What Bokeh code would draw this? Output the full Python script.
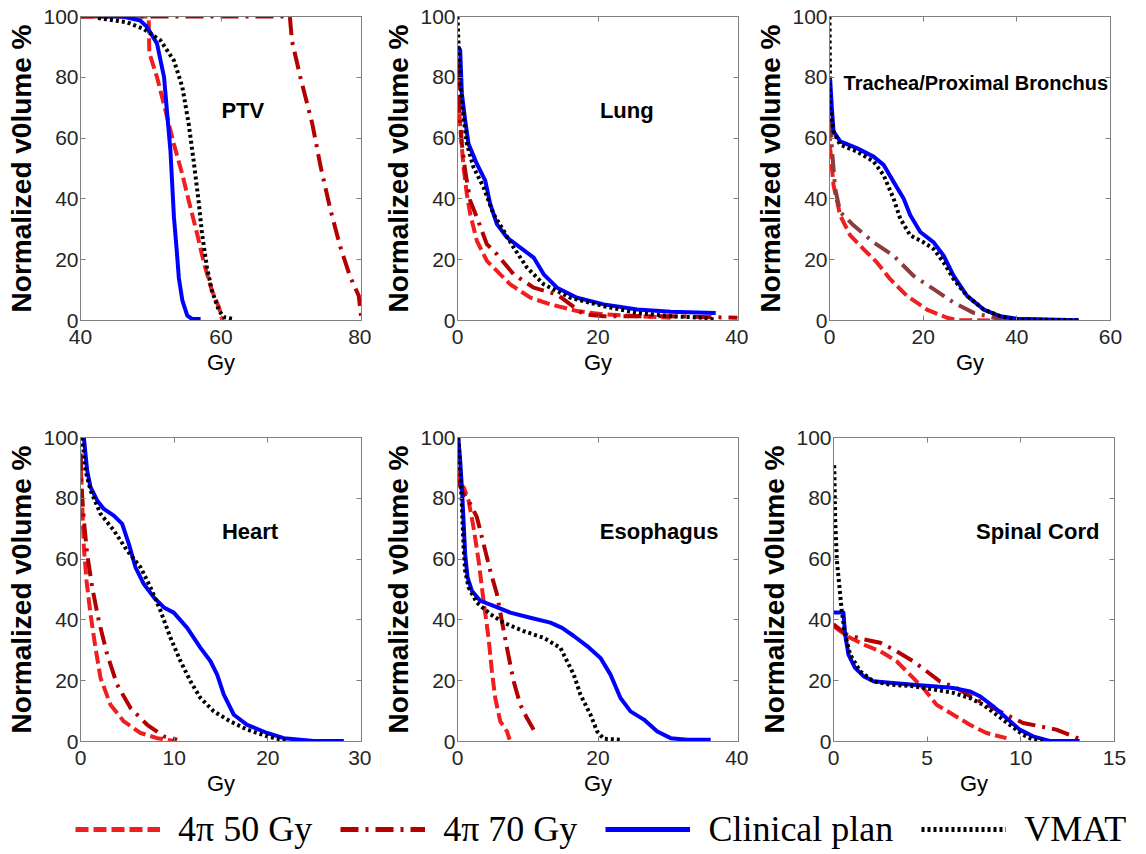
from bokeh.plotting import figure
from bokeh.models import Range1d, LinearAxis, FixedTicker, Label, Legend, LegendItem
from bokeh.layouts import row, column
from bokeh.embed import file_html
from bokeh.resources import INLINE

# ---------------- data (dose in Gy, normalized volume in %) ----------------
ptv_dose_50 = [40, 49.7, 49.8, 50.9, 52.1, 53.3, 54.5, 55.4, 56.6, 57.6, 58.7, 59.7, 60.2]
ptv_vol_50 = [100, 100, 88, 80, 69, 58, 48, 39.5, 28.5, 18.6, 9.9, 4.4, 0]
ptv_dose_70 = [40, 69.8, 70.1, 71.3, 73.0, 74.2, 75.6, 77.0, 78.4, 79.6, 79.9, 80]
ptv_vol_70 = [100, 100, 92, 80, 64.7, 50.4, 36.2, 24.1, 14.3, 8.2, 2.2, 0]
ptv_dose_clin = [42.5, 46, 48.5, 49.5, 50.9, 51.9, 52.3, 52.8, 53.05, 53.3, 53.7, 54.0, 54.5, 55.2, 55.9, 57.1]
ptv_vol_clin = [100, 100, 98.7, 96.5, 91, 80, 69, 56, 45, 34, 23, 14, 6.6, 1.6, 0.5, 0.5]
ptv_dose_vmat = [42.5, 46.6, 49.0, 51.4, 53.3, 54.5, 55.4, 56.1, 56.8, 57.3, 58.0, 58.7, 59.7, 60.4, 61.8]
ptv_vol_vmat = [99.5, 98.1, 95.9, 92.1, 85.5, 76.8, 64.7, 52.6, 39.5, 28.5, 17.5, 9.9, 3.3, 1.1, 0.5]

lung_dose_50 = [0, 0.14, 0.38, 0.86, 1.33, 1.81, 2.76, 4.18, 5.61, 7.51, 10.37, 13.22, 17.02, 20.83, 25.58, 30.34]
lung_vol_50 = [80, 73.6, 63.7, 50.4, 41.6, 35.0, 26.2, 19.6, 16.3, 11.9, 7.5, 5.3, 3.1, 2.0, 1.4, 0.9]
lung_dose_70 = [0, 0.29, 0.62, 1.09, 1.81, 2.76, 4.18, 5.61, 7.99, 10.84, 14.17, 17.97, 20.83, 25.58, 30.34, 39.85]
lung_vol_70 = [85.7, 69.2, 58.1, 49.3, 39.4, 33.9, 25.1, 21.8, 15.2, 10.8, 8.6, 2.0, 1.4, 1.4, 1.4, 0.9]
lung_dose_clin = [0, 0.38, 0.62, 1.09, 1.57, 2.76, 3.95, 4.66, 5.61, 7.04, 8.94, 10.84, 12.27, 14.17, 17.02, 20.83, 25.58, 30.34, 36.76]
lung_vol_clin = [90.1, 89.0, 74.7, 65.9, 58.1, 51.5, 46.0, 38.3, 31.7, 27.3, 24.0, 20.7, 15.2, 10.8, 7.5, 5.3, 3.6, 2.9, 2.5]
lung_dose_vmat = [0, 0.14, 0.38, 0.86, 1.33, 2.28, 3.71, 5.14, 6.56, 7.99, 9.89, 12.27, 16.07, 20.83, 25.58, 30.34, 35.09, 36.5]
lung_vol_vmat = [100, 91.2, 78.0, 67.0, 58.1, 50.4, 43.8, 35.0, 29.5, 24.0, 17.4, 11.9, 7.5, 4.7, 2.5, 1.4, 0.9, 0.3]

tr_dose_50 = [0, 0.14, 0.86, 2.28, 4.42, 7.27, 10.12, 12.97, 16.54, 20.81, 25.09, 27.23, 35]
tr_vol_50 = [63.3, 56.7, 44.5, 34.6, 28.0, 23.5, 19.1, 13.6, 8.1, 3.6, 0.9, 0.1, 0]
tr_dose_70 = [0, 0.14, 0.5, 1.21, 2.28, 5.13, 9.41, 13.68, 17.96, 22.24, 26.51, 30.79, 35.07, 39.34]
tr_vol_70 = [77.7, 69.9, 56.7, 43.4, 35.7, 31.3, 25.7, 21.3, 14.7, 10.3, 5.9, 2.5, 0.9, 0.1]
tr_dose_clin = [0.14, 0.5, 0.86, 2.28, 5.84, 9.41, 11.55, 13.68, 15.82, 17.25, 19.39, 22.24, 24.38, 26.51, 29.37, 32.93, 36.49, 40.06, 53.24]
tr_vol_clin = [79.3, 69.9, 62.2, 58.9, 56.7, 53.9, 51.2, 45.6, 40.1, 34.6, 29.1, 25.7, 21.3, 14.7, 8.1, 3.6, 1.4, 0.6, 0.1]
tr_dose_vmat = [0, 0.14, 0.86, 2.28, 5.84, 9.41, 11.55, 13.68, 15.11, 17.25, 20.1, 22.24, 24.38, 26.51, 29.37, 32.93, 36.49, 40.06, 53.24]
tr_vol_vmat = [100, 69.9, 62.2, 57.8, 55.6, 52.3, 47.8, 40.1, 33.5, 28.0, 25.7, 23.5, 19.1, 13.6, 8.1, 3.6, 1.4, 0.3, 0.1]

ht_dose_50 = [0, 0.18, 0.36, 0.64, 1.07, 1.6, 2.14, 3.2, 4.63, 6.41, 8.19, 9.96]
ht_vol_50 = [94.7, 78.2, 63.9, 52.9, 41.9, 30.8, 20.9, 12.1, 6.6, 2.8, 1.1, 0.2]
ht_dose_70 = [0, 0.11, 0.36, 0.71, 1.25, 1.96, 2.85, 3.91, 5.34, 7.12, 8.9, 10.32]
ht_vol_70 = [94.7, 83.7, 72.7, 61.7, 50.7, 39.6, 28.6, 18.7, 11.0, 5.5, 1.7, 0.6]
ht_dose_clin = [0.36, 0.53, 0.71, 1.07, 1.78, 2.49, 3.56, 4.45, 5.16, 5.87, 6.76, 7.83, 8.9, 9.96, 11.39, 12.81, 13.88, 14.59, 15.3, 16.37, 17.79, 19.93, 21.71, 24.91, 28.11]
ht_vol_clin = [100, 94.7, 89.2, 83.7, 79.3, 76.5, 74.3, 71.6, 65.0, 57.3, 51.8, 47.4, 44.1, 42.4, 37.4, 30.8, 26.4, 22.0, 15.4, 8.8, 5.5, 2.8, 1.1, 0.2, 0.2]
ht_dose_vmat = [0.18, 0.53, 1.07, 2.14, 3.56, 4.98, 6.41, 7.47, 8.54, 9.61, 10.68, 11.74, 12.81, 14.23, 16.01, 17.79, 19.93, 22.06]
ht_vol_vmat = [100, 89.2, 82.6, 74.9, 69.4, 62.8, 57.3, 50.7, 43.0, 34.1, 26.4, 19.8, 14.3, 9.9, 6.6, 3.9, 1.7, 0.2]

es_dose_50 = [0, 0.14, 0.86, 1.57, 2.28, 3.0, 3.71, 4.42, 4.9, 5.37, 6.09, 7.04, 7.42]
es_vol_50 = [90.3, 84.8, 83.7, 79.3, 70.5, 59.5, 46.3, 34.1, 23.1, 14.3, 6.6, 3.3, 0.6]
es_dose_70 = [0, 0.86, 1.81, 2.76, 3.71, 4.66, 5.61, 6.32, 7.04, 7.99, 8.94, 9.89, 10.84]
es_vol_70 = [85.9, 81.5, 78.2, 73.8, 65.0, 56.2, 48.5, 39.6, 30.8, 19.8, 12.1, 7.7, 3.9]
es_dose_clin = [0.14, 0.38, 0.62, 0.86, 1.09, 1.43, 2.04, 3.23, 5.14, 7.51, 10.37, 13.22, 14.88, 16.55, 18.45, 20.35, 21.78, 23.2, 24.63, 26.53, 28.44, 30.34, 32.72, 36.04]
es_vol_clin = [99.1, 92.5, 83.7, 72.7, 61.7, 54.0, 49.6, 46.3, 44.6, 42.4, 40.7, 39.1, 37.4, 34.7, 31.4, 27.5, 22.0, 14.3, 9.9, 7.2, 3.3, 1.1, 0.6, 0.6]
es_dose_vmat = [0.14, 0.38, 0.62, 0.86, 1.09, 1.57, 2.76, 4.66, 6.56, 9.42, 12.27, 14.65, 15.6, 16.55, 17.5, 18.93, 19.88, 20.83, 23.2]
es_vol_vmat = [100, 89.2, 78.2, 63.9, 56.2, 50.7, 45.7, 41.9, 39.1, 36.3, 34.1, 30.8, 26.4, 22.0, 15.4, 8.8, 3.3, 0.9, 0.6]

sc_dose_50 = [0, 0.36, 0.89, 1.6, 2.49, 3.37, 4.08, 4.79, 5.5, 6.39, 7.28, 8.17, 9.23]
sc_vol_50 = [38.0, 36.3, 34.1, 31.9, 29.7, 26.4, 22.0, 17.6, 12.1, 8.8, 5.5, 2.8, 1.1]
sc_dose_70 = [0, 0.71, 1.6, 2.49, 3.37, 4.26, 4.97, 5.68, 6.57, 7.46, 8.34, 9.23, 10.12, 11.01, 11.89, 12.6, 13.23]
sc_vol_70 = [38.5, 35.2, 33.6, 32.5, 29.7, 26.4, 23.1, 19.8, 17.6, 14.3, 11.6, 8.8, 6.1, 5.0, 3.9, 2.2, 0.6]
sc_dose_clin = [0, 0.53, 0.62, 0.8, 1.15, 1.6, 2.13, 3.02, 4.26, 5.33, 6.39, 7.28, 7.81, 8.52, 9.23, 9.94, 10.65, 11.54, 13.14]
sc_vol_clin = [42.4, 42.4, 35.2, 28.6, 24.2, 21.5, 19.8, 19.3, 18.7, 18.2, 17.6, 16.5, 14.9, 11.6, 7.7, 3.9, 1.7, 0.2, 0.2]
sc_dose_vmat = [0.04, 0.09, 0.18, 0.32, 0.44, 0.62, 0.89, 1.42, 2.13, 3.02, 4.26, 5.33, 6.39, 7.28, 7.99, 8.7, 9.41, 10.12, 10.65, 11.18]
sc_vol_vmat = [90.9, 72.7, 59.5, 50.7, 43.0, 35.2, 28.6, 23.1, 19.8, 18.7, 18.2, 17.1, 16.0, 14.3, 12.1, 8.8, 5.5, 2.2, 0.6, 0.2]

panel_titles = ["PTV", "Lung", "Trachea/Proximal Bronchus", "Heart", "Esophagus", "Spinal Cord"]
series_names = ["4\u03c0 50 Gy", "4\u03c0 70 Gy", "Clinical plan", "VMAT"]
y_ticks = [0, 20, 40, 60, 80, 100]

# ---------------- styles ----------------
C50, C70, CCLIN, CVMAT = "#f01e1e", "#b40000", "#0000ff", "#000000"
D50, D70, DCLIN, DVMAT = "13 5", "18 7 3 7", "solid", "3 3"
LW = 4
AX_COL = "#808080"
TXT_COL = "#262626"
FONT = "Liberation Sans"


def make_panel(xr, xticks, curves, title, tx, ty, talign, tsize, w, h, lb, rb, tb, bb, c70=C70):
    p = figure(width=w, height=h, x_range=Range1d(*xr), y_range=Range1d(0, 100),
               output_backend="svg", toolbar_location=None, title=None,
               min_border_left=lb, min_border_right=rb, min_border_top=tb, min_border_bottom=bb)
    p.grid.visible = False
    p.background_fill_color = "white"
    p.border_fill_color = "white"
    p.outline_line_color = AX_COL
    p.xaxis.ticker = FixedTicker(ticks=xticks)
    p.yaxis.ticker = FixedTicker(ticks=y_ticks)
    for ax in p.xaxis + p.yaxis:
        ax.axis_line_color = AX_COL
        ax.major_tick_line_color = AX_COL
        ax.major_tick_in = 5
        ax.major_tick_out = 0
        ax.minor_tick_line_color = None
        ax.major_label_text_font = FONT
        ax.major_label_text_font_size = "21px"
        ax.major_label_text_color = TXT_COL
        ax.axis_label_text_font = FONT
        ax.axis_label_text_color = "black"
    p.xaxis.axis_label = "Gy"
    p.xaxis.axis_label_text_font_size = "22px"
    p.xaxis.axis_label_text_font_style = "normal"
    p.xaxis.major_label_standoff = 9
    p.xaxis.axis_label_standoff = 3
    p.yaxis.axis_label = "Normalized v0lume %"
    p.yaxis.axis_label_text_font_size = "28px"
    p.yaxis.axis_label_text_font_style = "bold"
    p.yaxis.major_label_standoff = 2
    p.yaxis.axis_label_standoff = 3
    # mirrored box ticks (top & right), no labels drawn
    for side, tk in (("above", xticks), ("right", y_ticks)):
        ax = LinearAxis(ticker=FixedTicker(ticks=tk), major_label_text_font_size="1px",
                        major_label_text_color=None,
                        major_tick_in=5, major_tick_out=0, minor_tick_line_color=None,
                        axis_line_color=AX_COL, major_tick_line_color=AX_COL,
                        major_label_standoff=0)
        p.add_layout(ax, side)
    (d50, v50), (d70, v70), (dc, vc), (dv, vv) = curves
    p.line(d50, v50, line_color=C50, line_width=LW, line_dash=D50, line_join="round")
    p.line(d70, v70, line_color=c70, line_width=LW, line_dash=D70, line_join="round")
    p.line(dc, vc, line_color=CCLIN, line_width=LW, line_join="round")
    p.line(dv, vv, line_color=CVMAT, line_width=LW, line_dash=DVMAT, line_join="round")
    p.add_layout(Label(x=tx, y=ty, text=title, text_font=FONT, text_font_style="bold",
                       text_font_size=tsize, text_align=talign, text_baseline="middle",
                       text_color="black"))
    return p


# row 1: frames at y 16..320 ; row 2: frames at y 437..741
p1 = make_panel((40, 80), [40, 60, 80],
                [(ptv_dose_50, ptv_vol_50), (ptv_dose_70, ptv_vol_70),
                 (ptv_dose_clin, ptv_vol_clin), (ptv_dose_vmat, ptv_vol_vmat)],
                panel_titles[0], 63.1, 69, "center", "22px", 371, 390, 80, 10, 16, 70)
p2 = make_panel((0, 40), [0, 20, 40],
                [(lung_dose_50, lung_vol_50), (lung_dose_70, lung_vol_70),
                 (lung_dose_clin, lung_vol_clin), (lung_dose_vmat, lung_vol_vmat)],
                panel_titles[1], 24.1, 69, "center", "22px", 377, 390, 86, 10, 16, 70)
p3 = make_panel((0, 60), [0, 20, 40, 60],
                [(tr_dose_50, tr_vol_50), (tr_dose_70, tr_vol_70),
                 (tr_dose_clin, tr_vol_clin), (tr_dose_vmat, tr_vol_vmat)],
                panel_titles[2], 3.0, 78, "left", "20px", 396, 390, 81, 34, 16, 70, c70="#8c3c3c")
p4 = make_panel((0, 30), [0, 10, 20, 30],
                [(ht_dose_50, ht_vol_50), (ht_dose_70, ht_vol_70),
                 (ht_dose_clin, ht_vol_clin), (ht_dose_vmat, ht_vol_vmat)],
                panel_titles[3], 18.1, 69, "center", "22px", 371, 409, 80, 10, 47, 58)
p5 = make_panel((0, 40), [0, 20, 40],
                [(es_dose_50, es_vol_50), (es_dose_70, es_vol_70),
                 (es_dose_clin, es_vol_clin), (es_dose_vmat, es_vol_vmat)],
                panel_titles[4], 28.7, 69, "center", "22px", 377, 409, 86, 10, 47, 58)
p6 = make_panel((0, 15), [0, 5, 10, 15],
                [(sc_dose_50, sc_vol_50), (sc_dose_70, sc_vol_70),
                 (sc_dose_clin, sc_vol_clin), (sc_dose_vmat, sc_vol_vmat)],
                panel_titles[5], 10.9, 69, "center", "22px", 396, 409, 85, 30, 47, 58)

# ---------------- legend strip ----------------
# renderers reuse PTV curves but the strip's x-range excludes them, so only legend swatches show
leg = figure(width=1144, height=54, output_backend="svg", toolbar_location=None, title=None,
             min_border=0, x_range=Range1d(0, 1), y_range=Range1d(0, 1))
leg.axis.visible = False
leg.grid.visible = False
leg.outline_line_color = None
r50 = leg.line(ptv_dose_50, ptv_vol_50, line_color=C50, line_width=5, line_dash=D50)
r70 = leg.line(ptv_dose_70, ptv_vol_70, line_color=C70, line_width=5, line_dash=D70)
rcl = leg.line(ptv_dose_clin, ptv_vol_clin, line_color=CCLIN, line_width=5)
rvm = leg.line(ptv_dose_vmat, ptv_vol_vmat, line_color=CVMAT, line_width=5, line_dash=DVMAT)
legend = Legend(items=[LegendItem(label=series_names[0], renderers=[r50]),
                       LegendItem(label=series_names[1], renderers=[r70]),
                       LegendItem(label=series_names[2], renderers=[rcl]),
                       LegendItem(label=series_names[3], renderers=[rvm])],
                orientation="horizontal", location=(75, 3), glyph_width=85, glyph_height=36,
                label_standoff=18, spacing=28, padding=0, margin=0,
                border_line_color=None, background_fill_alpha=0,
                label_text_font="Liberation Serif", label_text_font_size="36px",
                label_text_color="black")
leg.add_layout(legend)

layout = column(row(p1, p2, p3), row(p4, p5, p6), leg)
open("out.html", "w").write(file_html(layout, INLINE))
